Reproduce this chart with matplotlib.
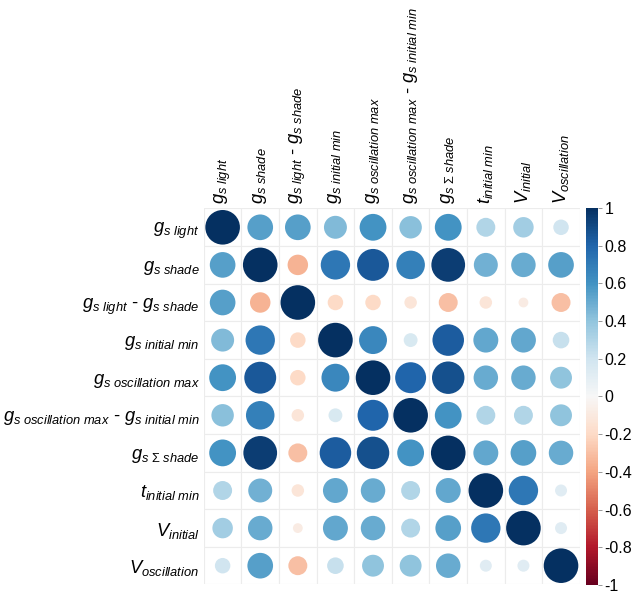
import numpy as np
import matplotlib
matplotlib.use("Agg")
import matplotlib.pyplot as plt
from matplotlib.patches import Circle, Rectangle
from matplotlib.colors import Normalize

plt.rcParams['font.family'] = ['Liberation Sans', 'DejaVu Sans']
plt.rcParams['mathtext.fontset'] = 'custom'
plt.rcParams['mathtext.rm'] = 'Liberation Sans'
plt.rcParams['mathtext.it'] = 'Liberation Sans:italic'
plt.rcParams['mathtext.bf'] = 'Liberation Sans:bold'

labels = [
    r'$g_{s\ light}$',
    r'$g_{s\ shade}$',
    r'$g_{s\ light}$ - $g_{s\ shade}$',
    r'$g_{s\ initial\ min}$',
    r'$g_{s\ oscillation\ max}$',
    r'$g_{s\ oscillation\ max}$ - $g_{s\ initial\ min}$',
    r'$g_{s\ \mathrm{\Sigma}\ shade}$',
    r'$t_{initial\ min}$',
    r'$V_{initial}$',
    r'$V_{oscillation}$',
]

corr = np.array([
    [1.00, 0.55, 0.55, 0.44, 0.60, 0.42, 0.60, 0.30, 0.35, 0.20],
    [0.55, 1.00, -0.35, 0.72, 0.85, 0.68, 0.95, 0.48, 0.50, 0.55],
    [0.55, -0.35, 1.00, -0.20, -0.20, -0.13, -0.30, -0.13, -0.08, -0.30],
    [0.44, 0.72, -0.20, 1.00, 0.65, 0.16, 0.83, 0.52, 0.52, 0.23],
    [0.60, 0.85, -0.20, 0.65, 1.00, 0.80, 0.88, 0.50, 0.50, 0.40],
    [0.42, 0.68, -0.13, 0.16, 0.80, 1.00, 0.60, 0.30, 0.30, 0.40],
    [0.60, 0.95, -0.30, 0.83, 0.88, 0.60, 1.00, 0.52, 0.55, 0.50],
    [0.30, 0.48, -0.13, 0.52, 0.50, 0.30, 0.52, 1.00, 0.72, 0.12],
    [0.35, 0.50, -0.08, 0.52, 0.50, 0.30, 0.55, 0.72, 1.00, 0.12],
    [0.20, 0.55, -0.30, 0.23, 0.40, 0.40, 0.50, 0.12, 0.12, 1.00],
])

n = len(labels)
cmap = plt.get_cmap('RdBu')
norm = Normalize(-1, 1)

fig = plt.figure(figsize=(6.33, 5.94), dpi=100)
ax = fig.add_axes([0.322, 0.015, 0.594, 0.635])

for i in range(n):
    for j in range(n):
        ax.add_patch(Rectangle((j + 0.5, i + 0.5), 1, 1, facecolor='white',
                               edgecolor='#ececec', lw=0.8))
        r = corr[i, j]
        rad = 0.46 * np.sqrt(abs(r))
        ax.add_patch(Circle((j + 1, i + 1), rad, facecolor=cmap(norm(r)),
                            edgecolor='none'))

ax.set_xlim(0.5, n + 0.5)
ax.set_ylim(n + 0.5, 0.5)
ax.set_aspect('equal')
for s in ax.spines.values():
    s.set_visible(False)

ax.set_xticks(np.arange(1, n + 1))
ax.set_yticks(np.arange(1, n + 1))
ax.xaxis.tick_top()
ax.set_xticklabels(labels, rotation=90, fontsize=13.2, va='bottom')
ax.set_yticklabels(labels, fontsize=13.2)
ax.tick_params(length=0, pad=3)

cax = fig.add_axes([0.926, 0.015, 0.018, 0.635])
sm = plt.cm.ScalarMappable(norm=norm, cmap=cmap)
cb = fig.colorbar(sm, cax=cax, ticks=np.linspace(-1, 1, 11))
cb.ax.set_yticklabels(['-1', '-0.8', '-0.6', '-0.4', '-0.2', '0', '0.2', '0.4', '0.6', '0.8', '1'])
cb.ax.tick_params(labelsize=11.5, length=3, width=0.6, color='#888888', pad=2)
cb.outline.set_visible(False)

fig.savefig('out.png', dpi=100)
